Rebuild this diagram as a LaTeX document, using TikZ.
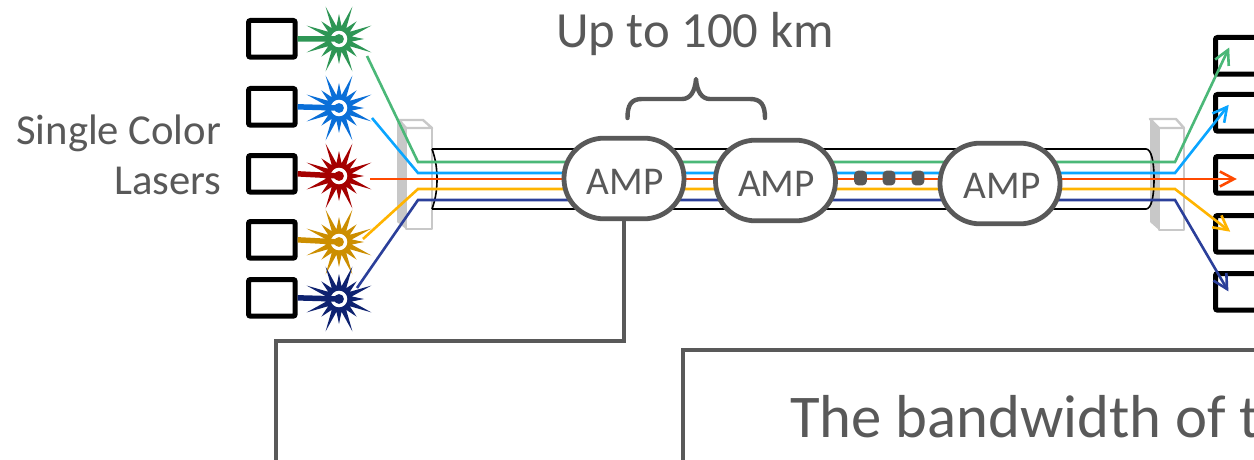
\documentclass[tikz,border=0pt]{standalone}
\usepackage{fontspec}
\setmainfont{Carlito}
\usetikzlibrary{calc}
\definecolor{ink}{HTML}{595959}
\definecolor{prism}{HTML}{C8C8C8}
\definecolor{cGreen}{HTML}{4BB878}
\definecolor{cBlue}{HTML}{0AA5FF}
\definecolor{cOrange}{HTML}{FF4A00}
\definecolor{cYellow}{HTML}{FFB400}
\definecolor{cNavy}{HTML}{2B3F9A}
\definecolor{sGreen}{HTML}{2E9655}
\definecolor{sBlue}{HTML}{0A6FD8}
\definecolor{sRed}{HTML}{A50000}
\definecolor{sGold}{HTML}{CC8E00}
\definecolor{sNavy}{HTML}{0E2270}
\tikzset{
  x=0.75pt,y=-0.75pt,
  px/.style={line width=#1*0.75pt},
  lbox/.style={draw=black,px=5,rounded corners=1.5pt,minimum width=35pt,minimum height=27.5pt,inner sep=0pt,anchor=north west},
  amp/.style={draw=ink,fill=white,px=4.8,rounded corners=30pt,minimum width=90pt,minimum height=60.5pt,inner sep=0pt},
  fib/.style={px=2.6,line join=miter},
  lab/.style={text=ink,inner sep=0pt},
  amplab/.style={lab,font=\fontsize{29.5pt}{31pt}\selectfont},
  dotbox/.style={fill=ink,rounded corners=3pt,minimum width=9.5pt,minimum height=11pt,inner sep=0pt},
  prismline/.style={draw=prism,px=2.4,line join=round},
  tube/.style={draw=black,px=1.6},
  heavy/.style={draw=ink,px=4.4},
}
% star: #1 name, #2 x, #3 y, #4 colour
\newcommand{\laserstar}[4]{%
  \coordinate (#1) at (#2,#3);
  \fill[#4] ($(#1)+(0:25)$)
    \foreach \k in {0,...,15}{
      -- ($(#1)+(\k*22.5+11.25:13)$)
      -- ($(#1)+(\k*22.5+22.5:{mod(\k,2)==0?35:25})$)
    } -- cycle;
  \fill[white] (#1) circle[radius=6.2pt];
  \fill[#4] (#1) circle[radius=3.7pt];
}
% straight open arrow head: tip, point on the incoming line
\newcommand{\headat}[3]{%
  \draw[fib,#3] ($(#1)!12pt!28:(#2)$) -- (#1) -- ($(#1)!12pt!-28:(#2)$);
}
\begin{document}
\begin{tikzpicture}
\useasboundingbox (0,0) rectangle (1254,460);
\clip (0,0) rectangle (1254,460);
\fill[white] (0,0) rectangle (1254,460);

% prisms
\fill[prism] (397,122) -- (406,128) -- (406,229) -- (397,222) -- cycle;
\draw[prismline,fill=white] (406,128) rectangle (432,229);
\draw[prismline,fill=white] (399,120) -- (423,120) -- (432,128) -- (406,128) -- cycle;
\fill[prism] (1150,119) -- (1159,128) -- (1159,230) -- (1150,222) -- cycle;
\draw[prismline,fill=white] (1159,128) rectangle (1184,230);
\draw[prismline,fill=white] (1150,119) -- (1176,119) -- (1184,128) -- (1159,128) -- cycle;

% tube
\draw[tube] (432,149) -- (1146,149) .. controls (1151,149) and (1154,160) .. (1154,179)
  .. controls (1154,198) and (1151,209) .. (1146,209) -- (432,209);
\draw[tube] (432,149) .. controls (436,160) and (437,170) .. (437,179) .. controls (437,188) and (436,198) .. (432,209);

% left boxes
\node[lbox] (b1) at (246,18) {};
\node[lbox] (b2) at (246,86) {};
\node[lbox] (b3) at (246,153) {};
\node[lbox] (b4) at (246,219) {};
\node[lbox] (b5) at (246,277) {};
% right boxes
\node[lbox] (r1) at (1213,35) {};
\node[lbox] (r2) at (1213,92) {};
\node[lbox] (r3) at (1213,154) {};
\node[lbox] (r4) at (1213,213) {};
\node[lbox] (r5) at (1213,271) {};

% lasers
\laserstar{s1}{339}{39}{sGreen}
\laserstar{s2}{339}{108}{sBlue}
\laserstar{s3}{339}{176}{sRed}
\laserstar{s4}{339}{242}{sGold}
\laserstar{s5}{339}{299}{sNavy}
\draw[sGreen,px=5.5] (b1.east) -- (s1);
\draw[sBlue,px=5.5] (b2.east) -- (s2);
\draw[sRed,px=5.5] (b3.east) -- (s3);
\draw[sGold,px=5.5] (b4.east) -- (s4);
\draw[sNavy,px=5.5] (b5.east) -- (s5);

% fibres
\coordinate (g0) at (367,56);
\coordinate (l0) at (372,118);
\coordinate (o0) at (370,179);
\coordinate (y0) at (363,239);
\coordinate (n0) at (357,288);
\coordinate (g1) at (1228,50);
\coordinate (l1) at (1227,107);
\coordinate (o1) at (1234,179);
\coordinate (y1) at (1228,230);
\coordinate (n1) at (1227,289);
\coordinate (gb) at (1175,162);
\coordinate (lb) at (1175,173);
\coordinate (yb) at (1175,189);
\coordinate (nb) at (1175,200);
\draw[fib,cGreen] (g0) -- (418,162) -- (gb) -- (g1);
\draw[fib,cBlue] (l0) -- (418,173) -- (lb) -- (l1);
\draw[fib,cOrange] (o0) -- (o1);
\draw[fib,cYellow] (y0) -- (418,189) -- (yb) -- (y1);
\draw[fib,cNavy] (n0) -- (418,200) -- (nb) -- (n1);
\headat{g1}{gb}{cGreen}
\headat{l1}{lb}{cBlue}
\headat{o1}{o0}{cOrange}
\headat{y1}{yb}{cYellow}
\headat{n1}{nb}{cNavy}

% amplifiers
\node[amp] (a1) at (624,178.5) {};
\node[amp] (a2) at (775.5,180.5) {};
\node[amp] (a3) at (1000,183.5) {};
\node[amplab] (t1) at (625,182) {AMP};
\node[amplab] (t2) at (776.5,184) {AMP};
\node[amplab] (t3) at (1002,186) {AMP};

% dots
\node[dotbox] (d1) at (860.5,178) {};
\node[dotbox] (d2) at (889,178) {};
\node[dotbox] (d3) at (918,178) {};

% brace
\draw[heavy,line cap=round,line join=round] (627.5,118) .. controls (627.5,105) and (631,99) .. (642,99)
  -- (682,99) .. controls (690,99) and (695,92) .. (696,79)
  .. controls (697,92) and (702,99) .. (710,99) -- (750,99)
  .. controls (761,99) and (765,105) .. (765,118);

% connectors
\coordinate (c1) at (276,470);
\draw[heavy,px=4] (a1.south) -- (624,341) -- (276,341) -- (c1);
\coordinate (f1) at (683,470);
\coordinate (f2) at (1264,350);
\draw[heavy] (f1) -- (683,350) -- (f2);

% labels
\node[lab,anchor=base,font=\fontsize{38pt}{40pt}\selectfont] (t4) at (695,47.5) {Up to 100 km};
\node[lab,anchor=base east,font=\fontsize{32pt}{34pt}\selectfont] (t5) at (221.5,144) {Single Color};
\node[lab,anchor=base east,font=\fontsize{32pt}{34pt}\selectfont] (t6) at (221.5,194) {Lasers};
\node[lab,anchor=base west,font=\fontsize{45.5pt}{48pt}\selectfont] (t7) at (790,437) {The bandwidth of t};
\end{tikzpicture}
\end{document}
